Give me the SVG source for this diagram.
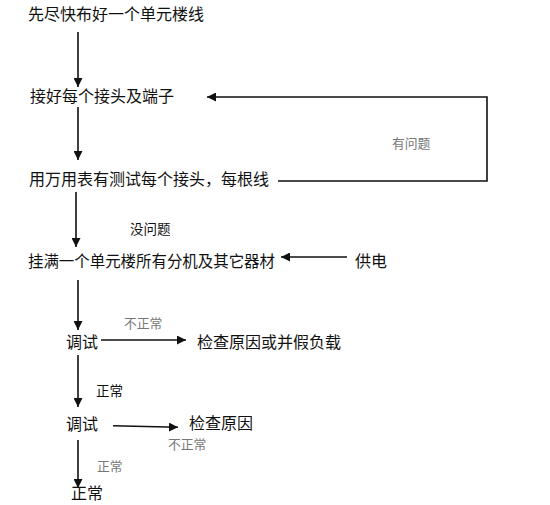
<svg xmlns="http://www.w3.org/2000/svg" width="550" height="505" viewBox="0 0 550 505">
<style>
text{font-family:"Noto Sans CJK SC","Noto Sans",sans-serif;}
.t{font-size:16px;fill:#111;}
.g{font-size:12.8px;fill:#777;}
.b{font-size:13.5px;fill:#111;}
.c{stroke:#111;stroke-width:1.6;fill:none;}
</style>
<defs>
<marker id="ah" viewBox="0 0 10 10" refX="10" refY="5" markerWidth="9" markerHeight="9" markerUnits="userSpaceOnUse" orient="auto">
<path d="M0,0 L10,5 L0,10 Z" fill="#111"/>
</marker>
</defs>
<rect width="550" height="505" fill="#fff"/>
<g id="connectors">
<line class="c" x1="78" y1="32" x2="78" y2="87" marker-end="url(#ah)"/>
<line class="c" x1="78" y1="107" x2="78" y2="160" marker-end="url(#ah)"/>
<polyline class="c" points="278,181 487,181 487,97 207,97" marker-end="url(#ah)"/>
<line class="c" x1="76" y1="192" x2="76" y2="247" marker-end="url(#ah)"/>
<line class="c" x1="347" y1="257" x2="281" y2="257" marker-end="url(#ah)"/>
<line class="c" x1="78" y1="280" x2="78" y2="330" marker-end="url(#ah)"/>
<line class="c" x1="101" y1="340" x2="186" y2="340" marker-end="url(#ah)"/>
<line class="c" x1="78" y1="355" x2="78" y2="407" marker-end="url(#ah)"/>
<line class="c" x1="113" y1="425.7" x2="178" y2="427.3" marker-end="url(#ah)"/>
<line class="c" x1="78" y1="440" x2="78" y2="488" marker-end="url(#ah)"/>
</g>
<g id="n1"><text class="t" x="28" y="20">先尽快布好一个单元楼线</text></g>
<g id="n2"><text class="t" x="30" y="102">接好每个接头及端子</text></g>
<g id="n3"><text class="t" x="29" y="185">用万用表有测试每个接头，每根线</text></g>
<g id="n4"><text class="t" x="28" y="267" textLength="247" lengthAdjust="spacingAndGlyphs">挂满一个单元楼所有分机及其它器材</text></g>
<g id="n5"><text class="t" x="355" y="267">供电</text></g>
<g id="n6"><text class="t" x="66" y="348">调试</text></g>
<g id="n7"><text class="t" x="197" y="348">检查原因或并假负载</text></g>
<g id="n8"><text class="t" x="66" y="430">调试</text></g>
<g id="n9"><text class="t" x="189" y="429">检查原因</text></g>
<g id="n10"><text class="t" x="71" y="499">正常</text></g>
<g id="labels">
<text class="g" x="392" y="148">有问题</text>
<text class="b" x="130" y="234">没问题</text>
<text class="g" x="124" y="328">不正常</text>
<text class="b" x="96" y="396">正常</text>
<text class="g" x="168" y="449">不正常</text>
<text class="g" x="97" y="471">正常</text>
</g>
</svg>
